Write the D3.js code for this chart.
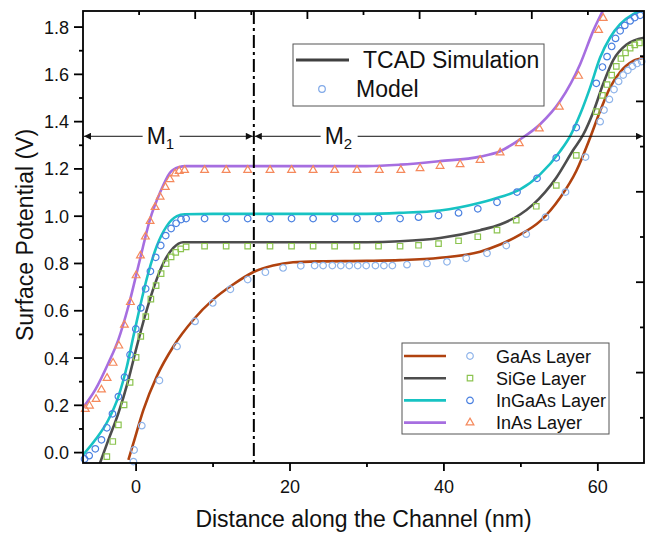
<!DOCTYPE html>
<html lang="en">
<head>
<meta charset="UTF-8">
<title>Surface Potential along the Channel</title>
<script src="https://d3js.org/d3.v7.min.js"></script>
<style>
body, html { margin: 0; padding: 0; background: #fff; overflow: hidden; }
svg { display: block; font-family: "Liberation Sans", Arial, sans-serif; }
</style>
</head>
<body>
<svg width="647" height="536"></svg>
<script>
// values: [distance (nm), surface potential (V)]
const gaasTcad = [[-1.0,-0.031],[-0.35,0.04],[0.95,0.181],[2.68,0.322],[4.84,0.449],[7.44,0.562],[10.0,0.647],[12.6,0.711],[15.2,0.763],[17.8,0.791],[20.4,0.805],[23.9,0.809],[30,0.811],[34.3,0.814],[39.5,0.824],[44.7,0.85],[47.3,0.88],[49.9,0.922],[52.5,0.979],[55.1,1.078],[57.2,1.191],[59.0,1.332],[60.3,1.445],[61.6,1.545],[62.9,1.61],[64.6,1.657],[66.1,1.671]];
const sigeTcad = [[-4.7,-0.045],[-3.6,0.054],[-2.3,0.167],[-1.0,0.308],[0.09,0.449],[1.17,0.58],[2.47,0.715],[3.55,0.802],[4.84,0.866],[6.1,0.89],[10,0.89],[20,0.89],[30,0.89],[34.3,0.894],[39.5,0.908],[44.7,0.941],[47.3,0.965],[49.9,1.007],[51.6,1.05],[54.6,1.163],[56.8,1.28],[58.1,1.345],[59.4,1.44],[60.7,1.56],[62.0,1.66],[63.7,1.725],[66,1.755]];
const ingaasTcad = [[-6.9,-0.01],[-5.3,0.054],[-3.6,0.139],[-2.3,0.237],[-1.2,0.364],[-0.35,0.492],[0.52,0.619],[1.47,0.746],[2.68,0.873],[3.98,0.958],[5.3,1.0],[6.3,1.008],[10,1.01],[20,1.01],[30,1.01],[34.3,1.014],[39.5,1.024],[44.7,1.057],[47.3,1.081],[49.9,1.113],[52.5,1.177],[55.1,1.275],[56.4,1.339],[57.7,1.431],[59.0,1.544],[60.3,1.671],[61.6,1.756],[62.9,1.812],[64.6,1.855],[66,1.872]];
const inasTcad = [[-6.9,0.19],[-5.3,0.266],[-3.6,0.379],[-2.3,0.478],[-1.0,0.619],[0.5,0.817],[1.8,0.986],[3.1,1.099],[4.4,1.184],[5.5,1.207],[6.5,1.212],[10,1.212],[20,1.212],[30,1.212],[34.3,1.218],[39.5,1.233],[44.7,1.252],[47.3,1.275],[49.9,1.325],[52.5,1.389],[55.1,1.487],[57.7,1.643],[59.4,1.784],[60.7,1.872]];

const gaasModel = [[-0.35,-0.038],[-0.26,0.011],[0.74,0.114],[3.03,0.305],[5.32,0.449],[7.66,0.555],[9.96,0.633],[12.25,0.691],[14.5,0.732],[16.8,0.763],[19.1,0.781],[21.4,0.79],[23.2,0.791],[24.3,0.791],[25.5,0.791],[26.6,0.791],[27.7,0.791],[28.8,0.791],[29.9,0.791],[31.1,0.791],[32.2,0.791],[33.3,0.791],[35.2,0.795],[37.8,0.8],[40.4,0.807],[42.9,0.822],[45.6,0.843],[48.1,0.876],[50.7,0.924],[53.2,0.996],[55.8,1.102],[58.4,1.25],[60.3,1.4],[60.8,1.449],[61.5,1.494],[62.1,1.536],[62.7,1.57],[63.3,1.597],[63.9,1.617],[64.5,1.634],[65.1,1.646],[65.7,1.654]];
const sigeModel = [[-3.8,-0.017],[-3.03,0.047],[-2.3,0.117],[-1.56,0.202],[-0.78,0.297],[0,0.403],[0.61,0.492],[1.26,0.575],[1.92,0.649],[2.6,0.706],[3.25,0.757],[3.9,0.799],[4.55,0.828],[5.15,0.847],[5.8,0.862],[6.5,0.87],[8.9,0.873],[11.7,0.873],[14.5,0.873],[17.4,0.873],[20.2,0.873],[23.0,0.873],[25.8,0.873],[28.7,0.873],[31.5,0.873],[34.3,0.873],[36.7,0.877],[39.3,0.884],[41.9,0.896],[44.4,0.913],[46.9,0.941],[49.4,0.983],[52.0,1.042],[54.6,1.13],[57.2,1.257],[59.8,1.442],[60.6,1.511],[61.2,1.557],[61.8,1.597],[62.4,1.634],[63.0,1.667],[63.6,1.691],[64.2,1.711],[64.8,1.725],[65.4,1.733]];
const ingaasModel = [[-6.7,-0.027],[-6.1,-0.013],[-5.3,0.016],[-4.5,0.054],[-3.8,0.105],[-3.07,0.164],[-2.3,0.237],[-1.5,0.319],[-0.78,0.414],[-0.04,0.523],[0.61,0.612],[1.24,0.693],[1.86,0.767],[2.55,0.826],[3.2,0.876],[3.85,0.918],[4.55,0.948],[5.2,0.97],[5.84,0.986],[6.5,0.99],[8.9,0.99],[11.7,0.99],[14.5,0.99],[17.4,0.99],[20.2,0.99],[23.0,0.99],[25.8,0.99],[28.7,0.99],[31.5,0.99],[34.3,0.99],[36.7,0.996],[39.3,1.003],[41.9,1.014],[44.4,1.031],[46.9,1.059],[49.5,1.102],[52.1,1.16],[54.6,1.247],[57.2,1.375],[59.8,1.562],[60.6,1.631],[61.2,1.675],[61.8,1.718],[62.3,1.752],[62.9,1.784],[63.5,1.807],[64.2,1.826],[64.8,1.84],[65.5,1.85]];
const inasModel = [[-6.6,0.184],[-6.06,0.198],[-5.2,0.226],[-4.5,0.266],[-3.77,0.315],[-2.99,0.379],[-2.25,0.452],[-1.52,0.54],[-0.74,0.636],[0,0.749],[0.56,0.833],[1.21,0.913],[1.82,0.979],[2.47,1.038],[3.12,1.082],[3.8,1.123],[4.4,1.156],[5.06,1.18],[5.6,1.191],[6.3,1.195],[8.9,1.195],[11.7,1.195],[14.5,1.195],[17.4,1.195],[20.2,1.195],[23.0,1.195],[25.8,1.195],[28.7,1.195],[31.6,1.195],[34.4,1.195],[36.9,1.202],[39.5,1.212],[42.1,1.219],[44.7,1.237],[47.3,1.269],[49.8,1.308],[52.4,1.37],[55.0,1.462],[57.5,1.593],[60.1,1.787],[60.7,1.838]];

const layers = ["GaAs Layer", "SiGe Layer", "InGaAs Layer", "InAs Layer"];
const xMajor = [0, 20, 40, 60];
const xMinor = [10, 30, 50];
const yMajor = [0, 0.2, 0.4, 0.6, 0.8, 1.0, 1.2, 1.4, 1.6, 1.8];
const yMinor = [0.1, 0.3, 0.5, 0.7, 0.9, 1.1, 1.3, 1.5, 1.7];
const mirrorTicks = [1, 2, 3, 4, 5, 6, 7, 8, 9];  // unlabelled top / right axes
const boundaryX = 15.3;   // M1 / M2 boundary (nm)
const arrowY = 1.338;

const series = [
  { name: layers[0], line: gaasTcad,   model: gaasModel,   lineColor: "#b0420f", markColor: "#8fb4ea", shape: "circle" },
  { name: layers[1], line: sigeTcad,   model: sigeModel,   lineColor: "#4d4d4d", markColor: "#8cc450", shape: "square" },
  { name: layers[2], line: ingaasTcad, model: ingaasModel, lineColor: "#17c3c3", markColor: "#4a80e0", shape: "circle" },
  { name: layers[3], line: inasTcad,   model: inasModel,   lineColor: "#a66ee0", markColor: "#f5895c", shape: "triangle" }
];

const svg = d3.select("svg");
const margin = { top: 11, right: 3, bottom: 73, left: 83 };
const W = 647, H = 536;
const x = d3.scaleLinear().domain([-6.9, 66]).range([margin.left, W - margin.right]);
const y = d3.scaleLinear().domain([-0.044, 1.868]).range([H - margin.bottom, margin.top]);
const xTop = d3.scaleLinear().domain([0, 10]).range([margin.left, W - margin.right]);
const yRight = d3.scaleLinear().domain([0, 10]).range([H - margin.bottom, margin.top]);

const defs = svg.append("defs");
defs.append("clipPath").attr("id", "plot")
  .append("rect")
  .attr("x", margin.left).attr("y", margin.top)
  .attr("width", W - margin.left - margin.right)
  .attr("height", H - margin.top - margin.bottom);
defs.append("marker").attr("id", "arrow")
  .attr("viewBox", "0 0 10 10").attr("refX", 10).attr("refY", 5)
  .attr("markerWidth", 10).attr("markerHeight", 7)
  .attr("markerUnits", "userSpaceOnUse")
  .attr("orient", "auto-start-reverse")
  .append("path").attr("d", "M0,0 L10,5 L0,10 z").attr("fill", "#111");

function symbolFor(shape) {
  if (shape === "square") return d3.symbol(d3.symbolSquare, 30)();
  if (shape === "triangle") return d3.symbol(d3.symbolTriangle, 26)();
  return d3.symbol(d3.symbolCircle, 34)();
}

// TCAD curves
const line = d3.line().x(d => x(d[0])).y(d => y(d[1])).curve(d3.curveMonotoneX);
svg.append("g").attr("clip-path", "url(#plot)")
  .selectAll("path")
  .data(series)
  .join("path")
  .attr("d", d => line(d.line))
  .attr("fill", "none")
  .attr("stroke", d => d.lineColor)
  .attr("stroke-width", 2.6);

// model points
series.forEach(s => {
  svg.append("g")
    .selectAll("path")
    .data(s.model)
    .join("path")
    .attr("transform", d => `translate(${x(d[0])},${y(d[1])})`)
    .attr("d", symbolFor(s.shape))
    .attr("fill", "none")
    .attr("stroke", s.markColor)
    .attr("stroke-width", 1.2);
});

// region boundary
svg.append("line")
  .attr("x1", x(boundaryX)).attr("x2", x(boundaryX))
  .attr("y1", margin.top).attr("y2", H - margin.bottom)
  .attr("stroke", "#000").attr("stroke-width", 2)
  .attr("stroke-dasharray", "13,4,3,4");

// M1 / M2 arrows
const ay = y(arrowY);
svg.append("line")
  .attr("x1", x.range()[0] + 1).attr("x2", x(boundaryX) - 1)
  .attr("y1", ay).attr("y2", ay)
  .attr("stroke", "#111").attr("stroke-width", 1)
  .attr("marker-start", "url(#arrow)").attr("marker-end", "url(#arrow)");
svg.append("line")
  .attr("x1", x(boundaryX) + 1).attr("x2", x.range()[1] - 1)
  .attr("y1", ay).attr("y2", ay)
  .attr("stroke", "#111").attr("stroke-width", 1)
  .attr("marker-start", "url(#arrow)").attr("marker-end", "url(#arrow)");

[["1", 1.37], ["2", 24.5]].forEach(([sub, xv]) => {
  const g = svg.append("g");
  g.append("rect")
    .attr("x", x(xv) - 4).attr("y", ay - 12)
    .attr("width", 37).attr("height", 24)
    .attr("fill", "#fff");
  const t = g.append("text")
    .attr("x", x(xv)).attr("y", ay + 8)
    .attr("font-size", 23).attr("fill", "#111")
    .text("M");
  t.append("tspan").attr("font-size", 15).attr("dy", 5).text(sub);
});

// frame and axes
const frame = svg.append("g").attr("stroke", "#000").attr("stroke-width", 1.8);
frame.append("rect")
  .attr("x", margin.left).attr("y", margin.top)
  .attr("width", W - margin.left - margin.right)
  .attr("height", H - margin.top - margin.bottom)
  .attr("fill", "none");

const yb = H - margin.bottom;
frame.selectAll("line.xmaj").data(xMajor).join("line")
  .attr("x1", d => x(d)).attr("x2", d => x(d)).attr("y1", yb).attr("y2", yb + 8);
frame.selectAll("line.xmin").data(xMinor).join("line")
  .attr("x1", d => x(d)).attr("x2", d => x(d)).attr("y1", yb).attr("y2", yb + 4);
frame.selectAll("line.ymaj").data(yMajor).join("line")
  .attr("x1", margin.left - 9).attr("x2", margin.left).attr("y1", d => y(d)).attr("y2", d => y(d));
frame.selectAll("line.ymin").data(yMinor).join("line")
  .attr("x1", margin.left - 4).attr("x2", margin.left).attr("y1", d => y(d)).attr("y2", d => y(d));
frame.selectAll("line.top").data(mirrorTicks).join("line")
  .attr("x1", d => xTop(d)).attr("x2", d => xTop(d))
  .attr("y1", margin.top).attr("y2", d => margin.top + (d % 2 ? 4 : 8));
frame.selectAll("line.right").data(mirrorTicks).join("line")
  .attr("x1", W - margin.right).attr("x2", d => W - margin.right - (d % 2 ? 4 : 8))
  .attr("y1", d => yRight(d)).attr("y2", d => yRight(d));

svg.append("g").selectAll("text").data(xMajor).join("text")
  .attr("x", d => x(d)).attr("y", yb + 30)
  .attr("text-anchor", "middle").attr("font-size", 18).attr("fill", "#111")
  .text(d => d);
svg.append("g").selectAll("text").data(yMajor).join("text")
  .attr("x", margin.left - 14).attr("y", d => y(d) + 6.5)
  .attr("text-anchor", "end").attr("font-size", 18).attr("fill", "#111")
  .text(d3.format(".1f"));

svg.append("text")
  .attr("x", (margin.left + W - margin.right) / 2).attr("y", 527)
  .attr("text-anchor", "middle").attr("font-size", 23).attr("fill", "#111")
  .text("Distance along the Channel (nm)");
svg.append("text")
  .attr("transform", `translate(33,${(margin.top + H - margin.bottom) / 2 - 2}) rotate(-90)`)
  .attr("text-anchor", "middle").attr("font-size", 23).attr("fill", "#111")
  .text("Surface Potential (V)");

// legend: line vs model
const leg1 = svg.append("g");
leg1.append("rect").attr("x", 293).attr("y", 44).attr("width", 251).attr("height", 62)
  .attr("fill", "#fff").attr("stroke", "#555").attr("stroke-width", 1);
leg1.append("line").attr("x1", 296).attr("x2", 349).attr("y1", 60).attr("y2", 60)
  .attr("stroke", "#404040").attr("stroke-width", 3);
leg1.append("circle").attr("cx", 322).attr("cy", 89).attr("r", 3.3)
  .attr("fill", "none").attr("stroke", "#7fa8e8").attr("stroke-width", 1.2);
leg1.append("text").attr("x", 363).attr("y", 68).attr("font-size", 23).attr("fill", "#111")
  .text("TCAD Simulation");
leg1.append("text").attr("x", 356).attr("y", 97).attr("font-size", 23).attr("fill", "#111")
  .text("Model");

// legend: layers
const leg2 = svg.append("g");
leg2.append("rect").attr("x", 402).attr("y", 343).attr("width", 207).attr("height", 91)
  .attr("fill", "#fff").attr("stroke", "#555").attr("stroke-width", 1);
const rows = leg2.selectAll("g.row").data(series).join("g")
  .attr("transform", (d, i) => `translate(0,${356 + i * 22.2})`);
rows.append("line").attr("x1", 404).attr("x2", 446)
  .attr("stroke", d => d.lineColor).attr("stroke-width", 2.6);
rows.append("path")
  .attr("transform", "translate(470,0)")
  .attr("d", d => symbolFor(d.shape))
  .attr("fill", "none").attr("stroke", d => d.markColor).attr("stroke-width", 1.2);
rows.append("text").attr("x", 496).attr("y", 6.5).attr("font-size", 18).attr("fill", "#111")
  .text(d => d.name);
</script>
</body>
</html>
